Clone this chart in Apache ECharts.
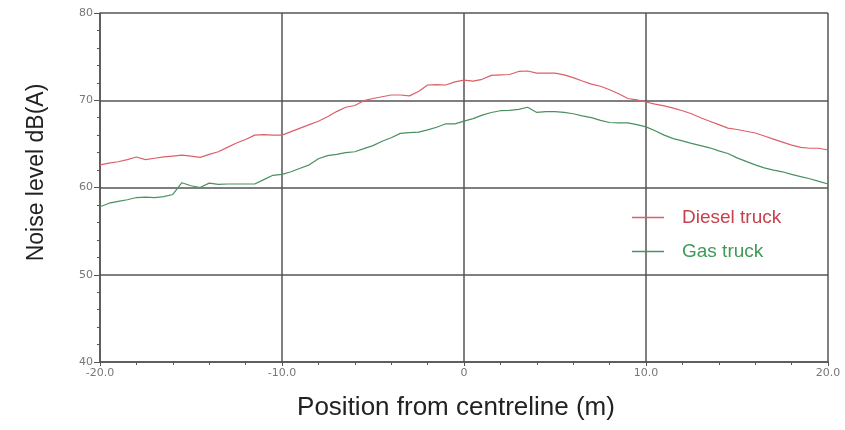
<!DOCTYPE html>
<html>
<head>
<meta charset="utf-8">
<script src="https://cdn.jsdelivr.net/npm/echarts@6/dist/echarts.min.js"></script>
<style>html,body{margin:0;padding:0;background:#fff}#c{width:845px;height:430px}</style>
</head>
<body>
<div id="c"></div>
<script>
const positions = [-20,-19.5,-19,-18.5,-18,-17.5,-17,-16.5,-16,-15.5,-15,-14.5,-14,-13.5,-13,-12.5,-12,-11.5,-11,-10.5,-10,-9.5,-9,-8.5,-8,-7.5,-7,-6.5,-6,-5.5,-5,-4.5,-4,-3.5,-3,-2.5,-2,-1.5,-1,-0.5,0,0.5,1,1.5,2,2.5,3,3.5,4,4.5,5,5.5,6,6.5,7,7.5,8,8.5,9,9.5,10,10.5,11,11.5,12,12.5,13,13.5,14,14.5,15,15.5,16,16.5,17,17.5,18,18.5,19,19.5,20];
const diesel = [62.6,62.8,62.95,63.2,63.5,63.2,63.35,63.5,63.6,63.7,63.6,63.45,63.8,64.1,64.6,65.1,65.5,66.0,66.05,66.0,66.0,66.4,66.8,67.2,67.6,68.1,68.7,69.2,69.4,69.95,70.2,70.4,70.6,70.6,70.5,71.0,71.75,71.8,71.75,72.1,72.3,72.2,72.4,72.85,72.9,72.95,73.3,73.35,73.1,73.1,73.1,72.9,72.6,72.2,71.85,71.6,71.2,70.75,70.2,70.05,69.8,69.55,69.35,69.1,68.8,68.45,68.0,67.6,67.2,66.8,66.65,66.45,66.25,65.9,65.55,65.2,64.85,64.6,64.5,64.5,64.3];
const gas = [57.8,58.2,58.4,58.6,58.85,58.9,58.85,58.95,59.2,60.55,60.2,60.0,60.5,60.35,60.4,60.4,60.4,60.4,60.9,61.4,61.5,61.8,62.2,62.6,63.3,63.65,63.8,64.0,64.1,64.45,64.8,65.3,65.7,66.2,66.3,66.35,66.6,66.9,67.3,67.3,67.6,67.9,68.3,68.6,68.8,68.85,68.95,69.2,68.6,68.7,68.7,68.6,68.45,68.2,68.0,67.7,67.45,67.4,67.4,67.2,66.95,66.5,66.0,65.6,65.35,65.05,64.8,64.55,64.2,63.9,63.4,63.0,62.6,62.25,62.0,61.8,61.5,61.25,61.0,60.7,60.4];
const seriesNames = ['Diesel truck', 'Gas truck'];
const xTickValues = [-20, -10, 0, 10, 20];
const xTickLabels = ['-20.0', '-10.0', '0', '10.0', '20.0'];
const yTickLabels = ['40', '50', '60', '70', '80'];

const axisCol = '#555';
const chart = echarts.init(document.getElementById('c'), null, {renderer: 'canvas'});
const pair = (vals) => positions.map((p, i) => [p, vals[i]]);
chart.setOption({
  animation: false,
  backgroundColor: '#fff',
  grid: {left: 100, right: 17, top: 13, bottom: 68, containLabel: false},
  xAxis: {
    type: 'value', min: -20, max: 20, interval: 10,
    name: 'Position from centreline (m)', nameLocation: 'middle', nameGap: 33,
    nameTextStyle: {fontFamily: 'Liberation Sans', fontSize: 26, color: '#222', padding: [0, 16, 0, 0]},
    axisLine: {show: true, onZero: false, lineStyle: {color: axisCol, width: 1.5}},
    axisTick: {show: true, inside: false, length: 4, lineStyle: {color: axisCol}},
    minorTick: {show: true, splitNumber: 5, length: 3, lineStyle: {color: axisCol}},
    splitLine: {show: true, lineStyle: {color: axisCol, width: 1.5}},
    axisLabel: {
      fontFamily: 'DejaVu Sans', fontSize: 11, color: '#777', margin: 6,
      formatter: (v) => { const i = xTickValues.indexOf(v); return i >= 0 ? xTickLabels[i] : ''; }
    }
  },
  yAxis: {
    type: 'value', min: 40, max: 80, interval: 10,
    name: 'Noise level dB(A)', nameLocation: 'middle', nameGap: 52,
    nameTextStyle: {fontFamily: 'Liberation Sans', fontSize: 23, color: '#222', padding: [0, 0, 0, 30]},
    axisLine: {show: true, onZero: false, lineStyle: {color: axisCol, width: 1.5}},
    axisTick: {show: true, inside: false, length: 6, lineStyle: {color: axisCol}},
    minorTick: {show: true, splitNumber: 5, length: 3, lineStyle: {color: axisCol}},
    splitLine: {show: true, lineStyle: {color: axisCol, width: 1.5}},
    axisLabel: {
      fontFamily: 'DejaVu Sans', fontSize: 11, color: '#777', margin: 7,
      formatter: (v) => yTickLabels[Math.round((v - 40) / 10)] || ''
    }
  },
  legend: {
    orient: 'vertical', left: 627, top: 203, itemWidth: 32, itemHeight: 1.5, itemGap: 15,
    icon: 'rect',
    data: [
      {name: seriesNames[0], textStyle: {color: '#c8404e'}},
      {name: seriesNames[1], textStyle: {color: '#3f9a58'}}
    ],
    textStyle: {fontFamily: 'Liberation Sans', fontSize: 19, padding: [0, 0, 0, 13]}
  },
  series: [
    {name: seriesNames[0], type: 'line', data: pair(diesel), symbol: 'none', lineStyle: {color: '#dc6068', width: 1.2}, itemStyle: {color: '#dc6068'}},
    {name: seriesNames[1], type: 'line', data: pair(gas), symbol: 'none', lineStyle: {color: '#4a9060', width: 1.2}, itemStyle: {color: '#4a9060'}}
  ]
});
</script>
</body>
</html>
